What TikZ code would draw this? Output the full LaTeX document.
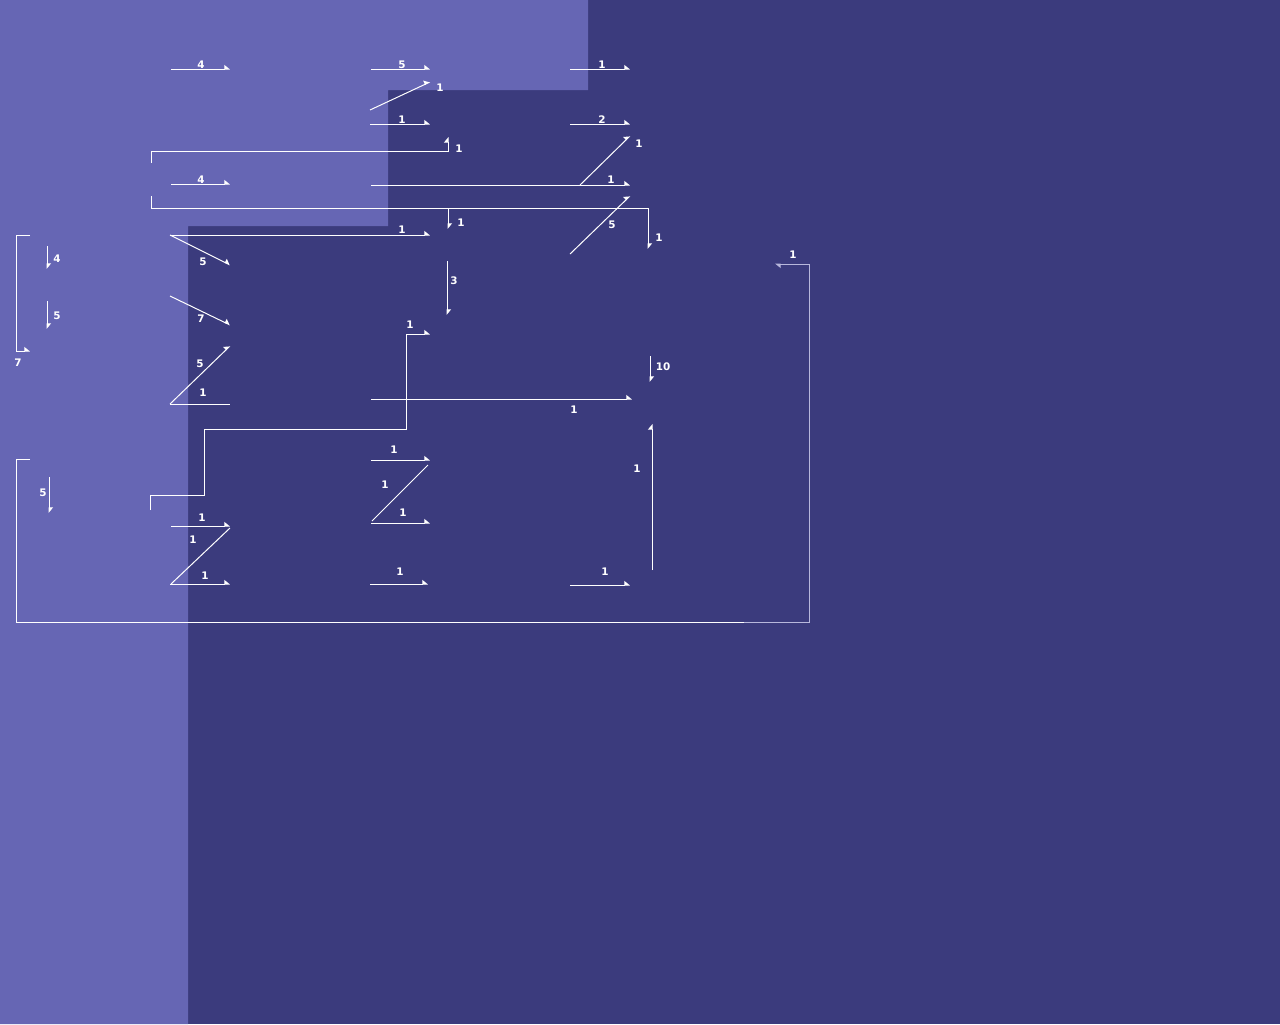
\documentclass[tikz,border=0pt]{standalone}
\usepackage{fontspec}
\setmainfont{DejaVu Sans}
\usetikzlibrary{arrows.meta}
\definecolor{bglight}{HTML}{6666B4}
\definecolor{bgdark}{HTML}{3B3B7D}
\definecolor{edgegray}{HTML}{B8B8DC}
\tikzset{
  edge/.style={white, line width=0.5pt, -{Triangle[left, length=2.5pt, width=4pt]}},
  bare/.style={white, line width=0.5pt},
  wlbl/.style={white, font=\fontsize{5.2}{6}\selectfont\bfseries, inner sep=0pt, yshift=-0.5pt},
}
\begin{document}
\begin{tikzpicture}[x=0.5pt, y=-0.5pt]
  % Background: dark page, light cluster in the top left
  \fill[bgdark] (0,0) rectangle (1280,1024);
  \fill[bglight] (0,0) -- (588,0) -- (588,90) -- (388,90) -- (388,226)
    -- (188,226) -- (188,1024) -- (0,1024) -- cycle;
  \useasboundingbox (0,0) rectangle (1280,1024);

  % Straight weighted edges: name/x1/y1/x2/y2/label x/label y/weight
  \foreach \n/\xa/\ya/\xb/\yb/\lx/\ly/\w in {
      a/171/69/230/69/201/64/4, b/371/69/430/69/402/64/5,
      c/570/69/630/69/602/64/1, d/370/110/430/82/440/87/1,
      e/370/124/430/124/402/119/1, f/570/124/630/124/602/119/2,
      g/580/185/630/136/639/143/1, h/171/184/230/184/201/179/4,
      i/371/185/630/185/611/179/1, j/570/254/630/196/612/224/5,
      k/170/235/430/235/402/229/1, l/170/235/230/265/203/261/5,
      m/170/296/230/325/201/318/7, n/170/404/230/346/200/363/5,
      o/47/246/47/269/57/258/4, p/47/301/47/329/57/315/5,
      q/447/261/447/315/454/280/3, r/650/356/650/382/663/366/10,
      s/652/570/652/424/637/468/1, t/49/477/49/513/43/492/5,
      u/171/526/230/526/202/517/1, v/170/584/230/584/205/575/1,
      w/371/460/430/460/394/449/1, x/371/523/430/523/403/512/1,
      y/370/584/428/584/400/571/1, z/570/585/630/585/605/571/1,
      mid/371/399/632/399/574/409/1} {
    \coordinate (\n-s) at (\xa,\ya);
    \coordinate (\n-t) at (\xb,\yb);
    \draw[edge] (\n-s) -- (\n-t);
    \node[wlbl] (\n-w) at (\lx,\ly) {\w};
  }

  % Edges without a visible tip
  \foreach \n/\xa/\ya/\xb/\yb/\lx/\ly/\w in {
      na/170/404/230/404/203/392/1, ua/230/528/171/584/193/539/1,
      wa/428/465/372/521/385/484/1} {
    \coordinate (\n-s) at (\xa,\ya);
    \coordinate (\n-t) at (\xb,\yb);
    \draw[bare] (\n-s) -- (\n-t);
    \node[wlbl] (\n-w) at (\lx,\ly) {\w};
  }

  % Elbow edges
  \coordinate (up-s) at (151,163);
  \coordinate (up-c) at (448,151);
  \coordinate (up-t) at (448,137);
  \draw[edge] (up-s) |- (up-c) -- (up-t);
  \node[wlbl] (up-w) at (459,148) {1};

  \coordinate (dn-s) at (151,196);
  \coordinate (dn-c) at (448,208);
  \coordinate (dn-t) at (448,229);
  \draw[edge] (dn-s) |- (dn-c) -- (dn-t);
  \node[wlbl] (dn-w) at (461,222) {1};

  \coordinate (far-c) at (648,208);
  \coordinate (far-t) at (648,249);
  \draw[edge] (dn-s) |- (far-c) -- (far-t);
  \node[wlbl] (far-w) at (659,237) {1};

  \coordinate (br-s) at (30,235);
  \coordinate (br-a) at (16,235);
  \coordinate (br-b) at (16,351);
  \coordinate (br-t) at (30,351);
  \draw[edge] (br-s) -- (br-a) -- (br-b) -- (br-t);
  \node[wlbl] (br-w) at (18,362) {7};

  \coordinate (st-s) at (150,510);
  \coordinate (st-a) at (204,495);
  \coordinate (st-b) at (406,429);
  \coordinate (st-c) at (430,334);
  \draw[edge] (st-s) |- (st-a) |- (st-b) |- (st-c);
  \node[wlbl] (st-w) at (410,324) {1};

  % Big loop back to the right
  \coordinate (lp-s) at (30,459);
  \coordinate (lp-a) at (16,459);
  \coordinate (lp-b) at (16,622);
  \coordinate (lp-c) at (744,622);
  \coordinate (lp-d) at (809,622);
  \coordinate (lp-e) at (809,264);
  \coordinate (lp-t) at (775,264);
  \draw[bare] (lp-s) -- (lp-a) -- (lp-b) -- (lp-c);
  \draw[edge, edgegray] (lp-c) -- (lp-d) -- (lp-e) -- (lp-t);
  \node[wlbl] (lp-w) at (793,254) {1};
\end{tikzpicture}
\end{document}
